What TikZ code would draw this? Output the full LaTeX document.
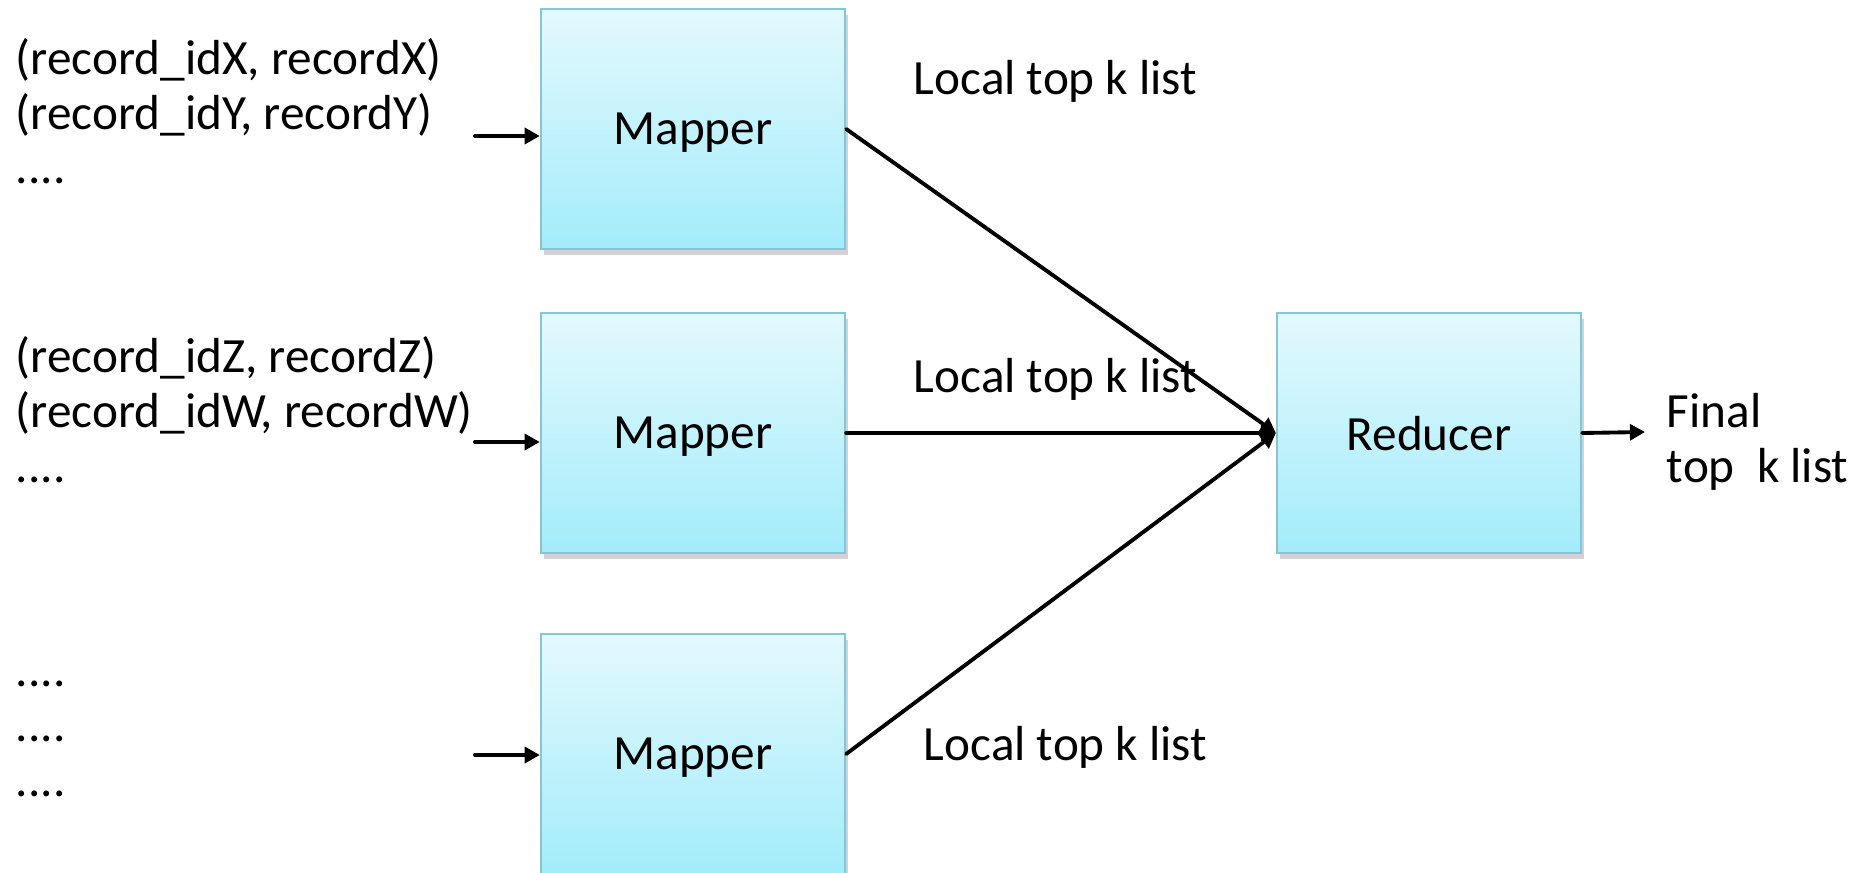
\documentclass[tikz,border=0pt]{standalone}
\usepackage{fontspec}
\setmainfont{Carlito}
\usetikzlibrary{arrows.meta,positioning,shadows}
\definecolor{boxtop}{HTML}{E3F9FD}
\definecolor{boxbot}{HTML}{A3ECFB}
\definecolor{boxline}{HTML}{84C6D6}

\begin{document}
\begin{tikzpicture}[x=0.01cm, y=-0.01cm, >={Triangle[length=4.3pt,width=4.5pt]}, line width=1.1pt,
    worker/.style={draw=boxline, line width=0.6pt, top color=boxtop, bottom color=boxbot,
      minimum width=3.04cm, minimum height=2.39cm, text depth=0pt, font=\fontsize{14}{16}\selectfont,
      drop shadow={shadow xshift=0.3mm, shadow yshift=-0.6mm, opacity=0.35}},
    txt/.style={font=\fontsize{14}{15.6}\selectfont, inner sep=0pt, align=left}]
    \useasboundingbox (0,0) rectangle (1858,873);
    % workers
    \node[worker] (m1) at (693,129) {Mapper};
    \node[worker] (m2) at (693,433) {Mapper};
    \node[worker] (m3) at (693,754) {Mapper};
    \node[worker] (r) at (1429,433) {Reducer};
    % input records
    \node[txt, anchor=base west] (rec1) at (14,184) {(record\_idX, recordX)\\(record\_idY, recordY)\\....};
    \node[txt, anchor=base west] (rec2) at (14,482) {(record\_idZ, recordZ)\\(record\_idW, recordW)\\....};
    \node[txt, anchor=base west] (rec3) at (14,796) {....\\....\\....};
    \coordinate (in1) at (475,136);
    \coordinate (in2) at (475,442);
    \coordinate (in3) at (475,755);
    \coordinate (out) at (1645,432);
    \path[->, line cap=round]
    (in1) edge (in1 -| m1.west)
    (in2) edge (in2 -| m2.west)
    (in3) edge (in3 -| m3.west)
    (m1.east) edge (r.west)
    (m2.east) edge (r.west)
    (m3.east) edge (r.west)
    (r.east) edge (out);
    % labels
    \node[txt, anchor=west] (lbl1) at (912,81) {Local top k list};
    \node[txt, anchor=west] (lbl2) at (912,379) {Local top k list};
    \node[txt, anchor=west] (lbl3) at (922,747) {Local top k list};
    \node[txt, anchor=west] (fin) at (1665,442) {Final\\top\ \ k list};
\end{tikzpicture}
\end{document}
